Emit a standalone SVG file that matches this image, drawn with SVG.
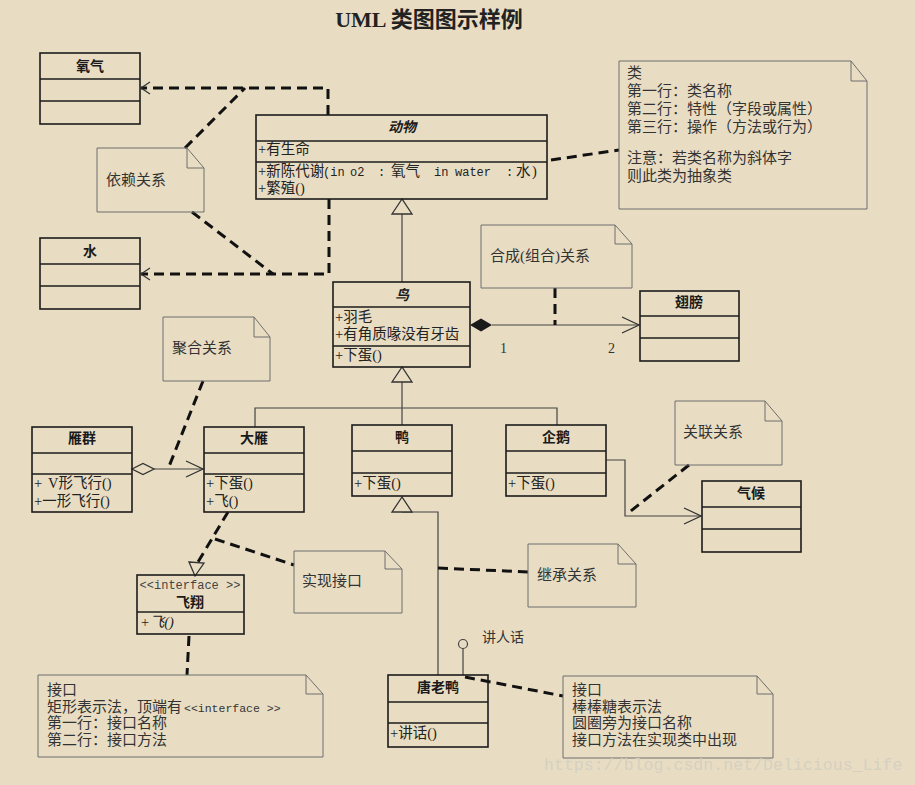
<svg xmlns="http://www.w3.org/2000/svg" width="915" height="785" viewBox="0 0 915 785">
<style>
.box{fill:none;stroke:#1c1c1c;stroke-width:1.6}
.note{fill:none;stroke:#6e6e6e;stroke-width:1}
.dash{fill:none;stroke:#111;stroke-width:3;stroke-dasharray:10 6}
.solid{fill:none;stroke:#444;stroke-width:1.2}
.hollow{fill:#e8ddc3;stroke:#333;stroke-width:1.3}
.name{font-family:"Liberation Serif","Noto Sans CJK SC",serif;font-weight:bold;font-size:14px;text-anchor:middle;fill:#1a1a1a}
.attr{font-family:"Liberation Serif","Noto Sans CJK SC",serif;font-size:14.5px;fill:#222}
.mono{font-family:"Liberation Mono","Noto Sans CJK SC",monospace;font-size:12px}
.nt{font-family:"Liberation Serif","Noto Sans CJK SC",serif;font-size:15px;fill:#333}
.lbl{font-family:"Liberation Serif","Noto Sans CJK SC",serif;font-size:14px;fill:#333}
</style>
<defs>
<marker id="open" viewBox="-19 -10 21 20" refX="0" refY="0" markerWidth="21" markerHeight="20" orient="auto" markerUnits="userSpaceOnUse"><path d="M-17,-8 L0,0 L-17,8" fill="none" stroke="#333" stroke-width="1.3"/></marker>
<marker id="dep" viewBox="-11 -8 13 16" refX="0" refY="0" markerWidth="13" markerHeight="16" orient="auto" markerUnits="userSpaceOnUse"><path d="M-9,-6 L0,0 L-9,6" fill="none" stroke="#333" stroke-width="1.2"/></marker>
</defs>
<rect x="0" y="0" width="915" height="785" fill="#e8ddc3"/>
<text x="429" y="27" text-anchor="middle" style="font-family:'Liberation Serif','Noto Sans CJK SC',serif;font-weight:bold;font-size:22px;fill:#222">UML 类图图示样例</text>

<g id="connectors">
<path class="dash" d="M328,115 V88 H141" marker-end="url(#dep)"/>
<path class="dash" d="M185,148 L245,88"/>
<path class="dash" d="M329,199 V274 H141" marker-end="url(#dep)"/>
<path class="dash" d="M192,212 L273,274"/>
<path class="dash" d="M551,160 L619,150"/>
<path class="solid" d="M402,282 V214"/>
<polygon class="hollow" points="402,199 392,214 412,214"/>
<path class="solid" d="M492,325 H639" marker-end="url(#open)"/>
<polygon points="470,325 481,318.5 492,325 481,331.5" fill="#1a1a1a"/>
<path class="dash" d="M555,288 V325"/>
<text class="lbl" x="500" y="353">1</text>
<text class="lbl" x="608" y="353">2</text>
<path class="solid" d="M402,382 V408 M255,427 V408 H557 V425 M402,408 V425"/>
<polygon class="hollow" points="402,367 392,382 412,382"/>
<path class="solid" d="M154,469 H203" marker-end="url(#open)"/>
<polygon class="hollow" points="132,469 143,463.5 154,469 143,474.5"/>
<path class="dash" d="M203,381 L168,469"/>
<path class="dash" d="M228,512 L198,562"/>
<polygon class="hollow" points="189,562 204,563 195,576"/>
<path class="dash" d="M215,539 L294,565"/>
<path class="dash" d="M189,636 L187,675"/>
<path class="solid" d="M402,512 H438 V675"/>
<polygon class="hollow" points="402,497 392,512 412,512"/>
<path class="dash" d="M438,568 L528,572"/>
<circle cx="463" cy="644" r="4.5" fill="none" stroke="#444" stroke-width="1.2"/>
<path class="solid" d="M463,648.5 V675"/>
<path class="dash" d="M465,677 L563,696"/>
<path class="solid" d="M606,460 H625 V516 H701" marker-end="url(#open)"/>
<path class="dash" d="M689,465 L627,514"/>
</g>

<g id="oxygen">
<rect class="box" x="40" y="53" width="100" height="71"/>
<path class="box" d="M40,79 H140 M40,101 H140"/>
<text class="name" x="90" y="71">氧气</text>
</g>
<g id="water">
<rect class="box" x="40" y="238" width="100" height="71"/>
<path class="box" d="M40,264 H140 M40,286 H140"/>
<text class="name" x="90" y="256">水</text>
</g>
<g id="animal">
<rect class="box" x="256" y="115" width="291" height="84"/>
<path class="box" d="M256,141 H547 M256,162 H547"/>
<text class="name" x="402" y="132" font-style="italic">动物</text>
<text class="attr" x="258" y="154">+有生命</text>
<text class="attr" y="176" font-size="14"><tspan x="258">+新陈代谢</tspan><tspan class="mono" x="323">(in</tspan><tspan class="mono" x="350">o2</tspan><tspan class="mono" x="378">:</tspan><tspan x="391">氧气</tspan><tspan class="mono" x="434">in</tspan><tspan class="mono" x="455">water</tspan><tspan class="mono" x="506">:</tspan><tspan x="516">水</tspan><tspan x="532">)</tspan></text>
<text class="attr" x="258" y="193">+繁殖()</text>
</g>
<g id="bird">
<rect class="box" x="333" y="282" width="137" height="85"/>
<path class="box" d="M333,307 H470 M333,346 H470"/>
<text class="name" x="402" y="300" font-style="italic">鸟</text>
<text class="attr" x="335" y="322">+羽毛</text>
<text class="attr" x="335" y="339">+有角质喙没有牙齿</text>
<text class="attr" x="335" y="360">+下蛋()</text>
</g>
<g id="wing">
<rect class="box" x="640" y="291" width="99" height="70"/>
<path class="box" d="M640,316 H739 M640,338 H739"/>
<text class="name" x="689" y="307">翅膀</text>
</g>
<g id="flock">
<rect class="box" x="32" y="427" width="100" height="85"/>
<path class="box" d="M32,453 H132 M32,474 H132"/>
<text class="name" x="82" y="443">雁群</text>
<text class="attr" y="488"><tspan x="34">+</tspan><tspan x="48">V形飞行()</tspan></text>
<text class="attr" x="34" y="506">+一形飞行()</text>
</g>
<g id="goose">
<rect class="box" x="204" y="427" width="100" height="85"/>
<path class="box" d="M204,453 H304 M204,474 H304"/>
<text class="name" x="254" y="443">大雁</text>
<text class="attr" x="206" y="488">+下蛋()</text>
<text class="attr" x="206" y="506">+飞()</text>
</g>
<g id="duck">
<rect class="box" x="352" y="425" width="100" height="71"/>
<path class="box" d="M352,451 H452 M352,473 H452"/>
<text class="name" x="402" y="442">鸭</text>
<text class="attr" x="354" y="488">+下蛋()</text>
</g>
<g id="penguin">
<rect class="box" x="506" y="425" width="100" height="71"/>
<path class="box" d="M506,451 H606 M506,473 H606"/>
<text class="name" x="556" y="442">企鹅</text>
<text class="attr" x="508" y="488">+下蛋()</text>
</g>
<g id="climate">
<rect class="box" x="702" y="481" width="99" height="71"/>
<path class="box" d="M702,507 H801 M702,529 H801"/>
<text class="name" x="751" y="498">气候</text>
</g>
<g id="fly">
<rect class="box" x="137" y="575" width="107" height="59"/>
<path class="box" d="M137,612 H244"/>
<text x="190" y="589" text-anchor="middle" style="font-family:'Liberation Mono',monospace;font-size:12px;fill:#444">&lt;&lt;interface &gt;&gt;</text>
<text class="name" x="190" y="607">飞翔</text>
<text class="attr" x="140" y="627" font-style="italic" fill="#555">+飞()</text>
</g>
<g id="donald">
<rect class="box" x="388" y="675" width="100" height="72"/>
<path class="box" d="M388,702 H488 M388,723 H488"/>
<text class="name" x="438" y="692">唐老鸭</text>
<text class="attr" x="390" y="738">+讲话()</text>
</g>
<text class="lbl" x="482" y="642">讲人话</text>

<g id="note-dependency">
<path class="note" d="M97,148 H187 L204,168 V212 H97 Z M187,148 V168 H204"/>
<text class="nt" x="106" y="185">依赖关系</text>
</g>
<g id="note-class">
<path class="note" d="M619,61 H851 L867,81 V209 H619 Z M851,61 V81 H867"/>
<text class="nt" x="627" y="78">类</text>
<text class="nt" x="627" y="96">第一行：类名称</text>
<text class="nt" x="627" y="114">第二行：特性（字段或属性）</text>
<text class="nt" x="627" y="132">第三行：操作（方法或行为）</text>
<text class="nt" x="627" y="163">注意：若类名称为斜体字</text>
<text class="nt" x="627" y="181">则此类为抽象类</text>
</g>
<g id="note-composition">
<path class="note" d="M481,225 H615 L632,244 V288 H481 Z M615,225 V244 H632"/>
<text class="nt" x="490" y="261">合成(组合)关系</text>
</g>
<g id="note-aggregation">
<path class="note" d="M163,317 H254 L270,337 V381 H163 Z M254,317 V337 H270"/>
<text class="nt" x="172" y="353">聚合关系</text>
</g>
<g id="note-association">
<path class="note" d="M675,401 H765 L782,421 V465 H675 Z M765,401 V421 H782"/>
<text class="nt" x="683" y="437">关联关系</text>
</g>
<g id="note-realize">
<path class="note" d="M294,551 H385 L402,569 V613 H294 Z M385,551 V569 H402"/>
<text class="nt" x="302" y="586">实现接口</text>
</g>
<g id="note-inherit">
<path class="note" d="M528,544 H618 L636,564 V607 H528 Z M618,544 V564 H636"/>
<text class="nt" x="537" y="580">继承关系</text>
</g>
<g id="note-interface-rect">
<path class="note" d="M38,675 H306 L323,694 V757 H38 Z M306,675 V694 H323"/>
<text class="nt" x="47" y="695">接口</text>
<text class="nt" y="712"><tspan x="47">矩形表示法，顶端有</tspan><tspan x="184" style="font-family:'Liberation Mono',monospace;font-size:11.5px">&lt;&lt;interface &gt;&gt;</tspan></text>
<text class="nt" x="47" y="728">第一行：接口名称</text>
<text class="nt" x="47" y="745">第二行：接口方法</text>
</g>
<g id="note-interface-lollipop">
<path class="note" d="M563,676 H757 L773,694 V758 H563 Z M757,676 V694 H773"/>
<text class="nt" x="572" y="695">接口</text>
<text class="nt" x="572" y="712">棒棒糖表示法</text>
<text class="nt" x="572" y="728">圆圈旁为接口名称</text>
<text class="nt" x="572" y="745">接口方法在实现类中出现</text>
</g>
<text x="544" y="770" style="font-family:'Liberation Mono',monospace;font-size:16.6px;fill:#d6d0c0">https://blog.csdn.net/Delicious_Life</text>
</svg>
